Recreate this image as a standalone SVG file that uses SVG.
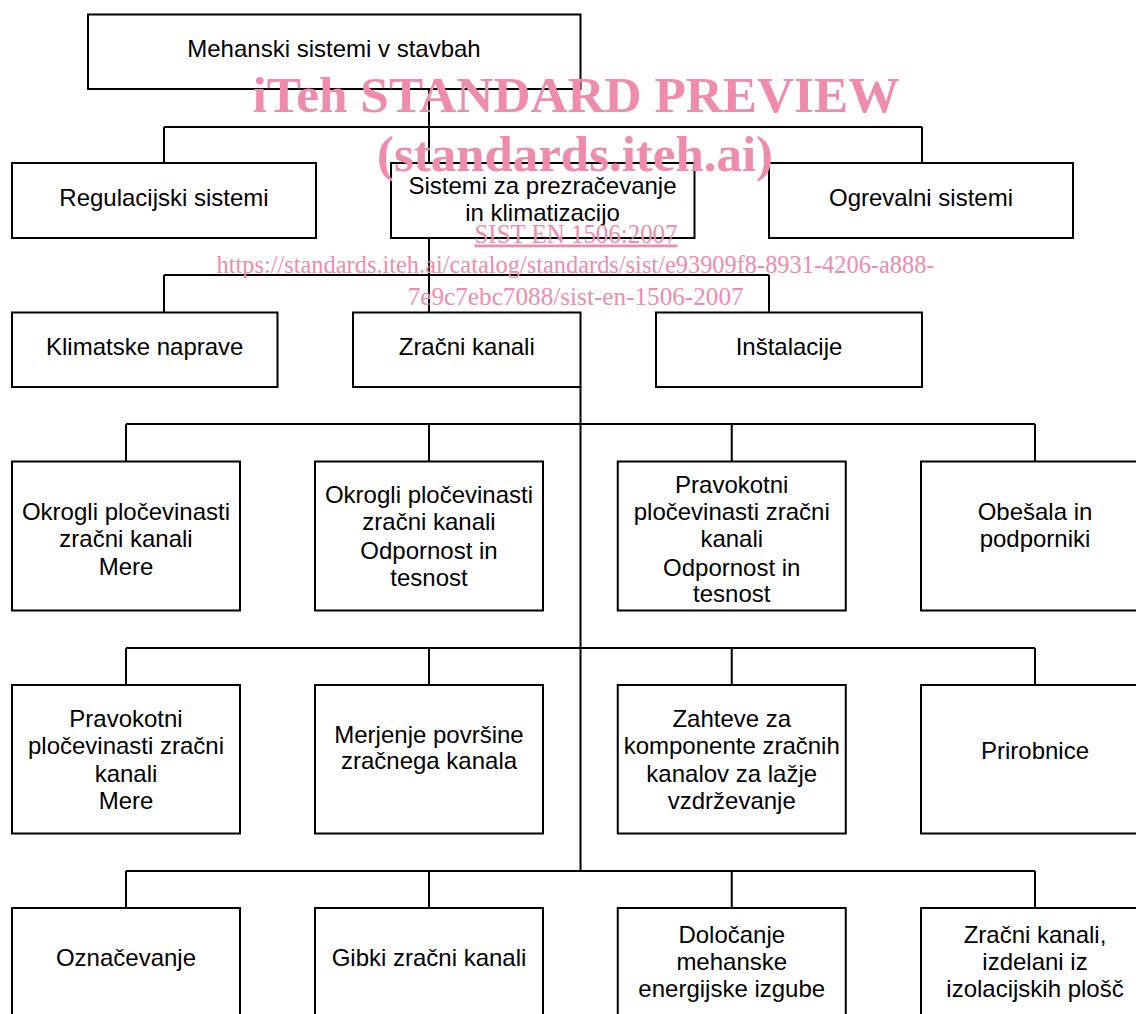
<svg xmlns="http://www.w3.org/2000/svg" width="1136" height="1014" viewBox="0 0 1136 1014">
<style>
.box{fill:#fff;stroke:#000;stroke-width:2}
.t{font-family:"Liberation Sans",Arial,sans-serif;font-size:24px;fill:#000;text-anchor:middle}
.c{fill:none;stroke:#000;stroke-width:2}
.wm{font-family:"Liberation Serif","Times New Roman",serif;fill:#ef8cab;text-anchor:middle}
</style>
<rect width="1136" height="1014" fill="#fff"/>
<g id="connectors">
<path class="c" d="M429 89V163M164 127H922M164 127V163M922 127V163"/>
<path class="c" d="M429 238V312.5M164 275H769M164 275V312.5M769 275V312.5"/>
<path class="c" d="M580.5 387V871"/>
<path class="c" d="M126 424H1035M126 424V461.5M429 424V461.5M731.75 424V461.5M1035 424V461.5"/>
<path class="c" d="M126 648H1035M126 648V685M429 648V685M731.75 648V685M1035 648V685"/>
<path class="c" d="M126 871H1035M126 871V908M429 871V908M731.75 871V908M1035 871V908"/>
</g>
<g id="n0"><rect class="box" x="88" y="14.5" width="492.5" height="74.5"/><text class="t" x="334" y="57">Mehanski sistemi v stavbah</text></g>
<g id="n1"><rect class="box" x="12" y="163" width="304" height="75"/><text class="t" x="164" y="206">Regulacijski sistemi</text></g>
<g id="n2"><rect class="box" x="391" y="163" width="303.5" height="75"/><text class="t" x="542.5" y="194.3">Sistemi za prezračevanje</text><text class="t" x="542.5" y="221">in klimatizacijo</text></g>
<g id="n3"><rect class="box" x="769" y="163" width="304" height="75"/><text class="t" x="921" y="206">Ogrevalni sistemi</text></g>
<g id="n4"><rect class="box" x="12" y="312.5" width="265.5" height="74.5"/><text class="t" x="144.75" y="355">Klimatske naprave</text></g>
<g id="n5"><rect class="box" x="353" y="312.5" width="227.5" height="74.5"/><text class="t" x="466.75" y="355">Zračni kanali</text></g>
<g id="n6"><rect class="box" x="656" y="312.5" width="266" height="74.5"/><text class="t" x="789" y="355">Inštalacije</text></g>
<g id="n7"><rect class="box" x="12" y="461.5" width="228" height="149"/><text class="t" x="126" y="520">Okrogli pločevinasti</text><text class="t" x="126" y="547.3">zračni kanali</text><text class="t" x="126" y="575">Mere</text></g>
<g id="n8"><rect class="box" x="315" y="461.5" width="228" height="149"/><text class="t" x="429" y="502.7">Okrogli pločevinasti</text><text class="t" x="429" y="530">zračni kanali</text><text class="t" x="429" y="559">Odpornost in</text><text class="t" x="429" y="586">tesnost</text></g>
<g id="n9"><rect class="box" x="617.75" y="461.5" width="228" height="149"/><text class="t" x="731.75" y="492.7">Pravokotni</text><text class="t" x="731.75" y="520">pločevinasti zračni</text><text class="t" x="731.75" y="547.3">kanali</text><text class="t" x="731.75" y="575.5">Odpornost in</text><text class="t" x="731.75" y="601.7">tesnost</text></g>
<g id="n10"><rect class="box" x="921" y="461.5" width="228" height="149"/><text class="t" x="1035" y="520">Obešala in</text><text class="t" x="1035" y="546.7">podporniki</text></g>
<g id="n11"><rect class="box" x="12" y="685" width="228" height="148.5"/><text class="t" x="126" y="726.7">Pravokotni</text><text class="t" x="126" y="754">pločevinasti zračni</text><text class="t" x="126" y="781.7">kanali</text><text class="t" x="126" y="809.3">Mere</text></g>
<g id="n12"><rect class="box" x="315" y="685" width="228" height="148.5"/><text class="t" x="429" y="742.7">Merjenje površine</text><text class="t" x="429" y="769.3">zračnega kanala</text></g>
<g id="n13"><rect class="box" x="617.75" y="685" width="228" height="148.5"/><text class="t" x="731.75" y="726.7">Zahteve za</text><text class="t" x="731.75" y="754">komponente zračnih</text><text class="t" x="731.75" y="781.7">kanalov za lažje</text><text class="t" x="731.75" y="809.3">vzdrževanje</text></g>
<g id="n14"><rect class="box" x="921" y="685" width="228" height="148.5"/><text class="t" x="1035" y="759.3">Prirobnice</text></g>
<g id="n15"><rect class="box" x="12" y="908" width="228" height="149"/><text class="t" x="126" y="966">Označevanje</text></g>
<g id="n16"><rect class="box" x="315" y="908" width="228" height="149"/><text class="t" x="429" y="966">Gibki zračni kanali</text></g>
<g id="n17"><rect class="box" x="617.75" y="908" width="228" height="149"/><text class="t" x="731.75" y="942.7">Določanje</text><text class="t" x="731.75" y="970">mehanske</text><text class="t" x="731.75" y="997.3">energijske izgube</text></g>
<g id="n18"><rect class="box" x="921" y="908" width="228" height="149"/><text class="t" x="1035" y="942.7">Zračni kanali,</text><text class="t" x="1035" y="970">izdelani iz</text><text class="t" x="1035" y="997.3">izolacijskih plošč</text></g>
<g id="watermark">
<text class="wm" x="576" y="111.5" font-size="51" font-weight="bold" textLength="647" lengthAdjust="spacingAndGlyphs">iTeh STANDARD PREVIEW</text>
<text class="wm" x="575" y="171" font-size="51" font-weight="bold" textLength="396" lengthAdjust="spacingAndGlyphs">(standards.iteh.ai)</text>
<text class="wm" x="576" y="242.5" font-size="28" textLength="203" lengthAdjust="spacingAndGlyphs" text-decoration="underline">SIST EN 1506:2007</text>
<text class="wm" x="575.5" y="273" font-size="26" textLength="718" lengthAdjust="spacingAndGlyphs">https://standards.iteh.ai/catalog/standards/sist/e93909f8-8931-4206-a888-</text>
<text class="wm" x="575.7" y="305" font-size="26" textLength="336" lengthAdjust="spacingAndGlyphs">7e9c7ebc7088/sist-en-1506-2007</text>
</g>
</svg>
